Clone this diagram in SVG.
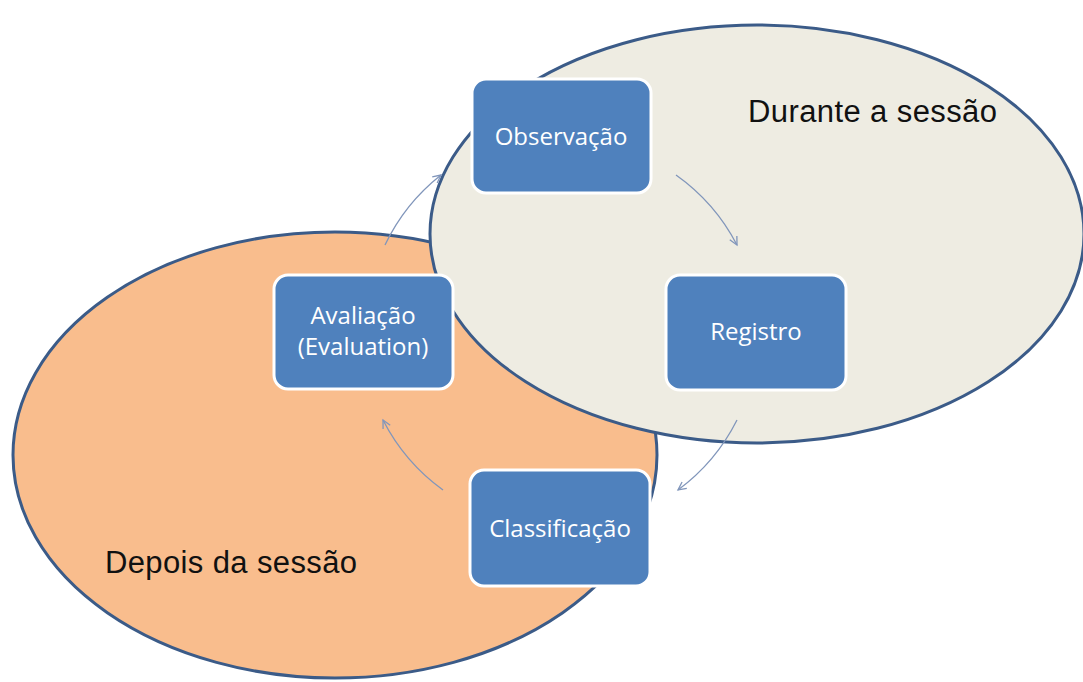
<svg xmlns="http://www.w3.org/2000/svg" width="1083" height="682" viewBox="0 0 1083 682">
  <style>
    .zone { stroke: #3b5b88; stroke-width: 3; }
    .box rect { fill: #4f81bd; stroke: #ffffff; stroke-width: 3; }
    .box text { fill: #ffffff; font-family: "Open Sans", "Noto Sans", sans-serif; font-size: 24px; text-anchor: middle; }
    .label { fill: #111111; font-family: "Liberation Sans", Arial, sans-serif; font-size: 31px; }
    .conn { fill: none; stroke: #8196bb; stroke-width: 1.3; }
  </style>
  <defs>
    <marker id="arrow" markerWidth="12" markerHeight="12" refX="9" refY="5" orient="auto" markerUnits="userSpaceOnUse">
      <path d="M1,1 L9,5 L1,9" fill="none" stroke="#8196bb" stroke-width="1.3"/>
    </marker>
  </defs>
  <rect width="1083" height="682" fill="#ffffff"/>

  <g id="zone-depois">
    <ellipse class="zone" cx="335" cy="455" rx="322" ry="223" fill="#f9bd8d"/>
    <text class="label" x="105" y="573" textLength="252" lengthAdjust="spacing">Depois da sessão</text>
  </g>
  <g id="zone-durante">
    <ellipse class="zone" cx="757" cy="234" rx="327" ry="209" fill="#eeece2"/>
    <text class="label" x="748" y="122" textLength="249" lengthAdjust="spacing">Durante a sessão</text>
  </g>

  <g id="connectors">
    <path class="conn" d="M385,245 A197,197 0 0 1 441,175" marker-end="url(#arrow)"/>
    <path class="conn" d="M676,175 A197,197 0 0 1 737,245" marker-end="url(#arrow)"/>
    <path class="conn" d="M737,420 A197,197 0 0 1 678,490" marker-end="url(#arrow)"/>
    <path class="conn" d="M443,490 A197,197 0 0 1 383,420" marker-end="url(#arrow)"/>
  </g>

  <g id="observacao" class="box">
    <rect x="472" y="79" width="179" height="114" rx="14"/>
    <text x="561" y="145">Observação</text>
  </g>
  <g id="registro" class="box">
    <rect x="666" y="275" width="180" height="115" rx="14"/>
    <text x="756" y="340">Registro</text>
  </g>
  <g id="classificacao" class="box">
    <rect x="470" y="470" width="180" height="116" rx="14"/>
    <text x="560" y="537">Classificação</text>
  </g>
  <g id="avaliacao" class="box">
    <rect x="274" y="275" width="179" height="114" rx="14"/>
    <text x="363" y="324">Avaliação</text>
    <text x="363" y="355">(Evaluation)</text>
  </g>
</svg>
